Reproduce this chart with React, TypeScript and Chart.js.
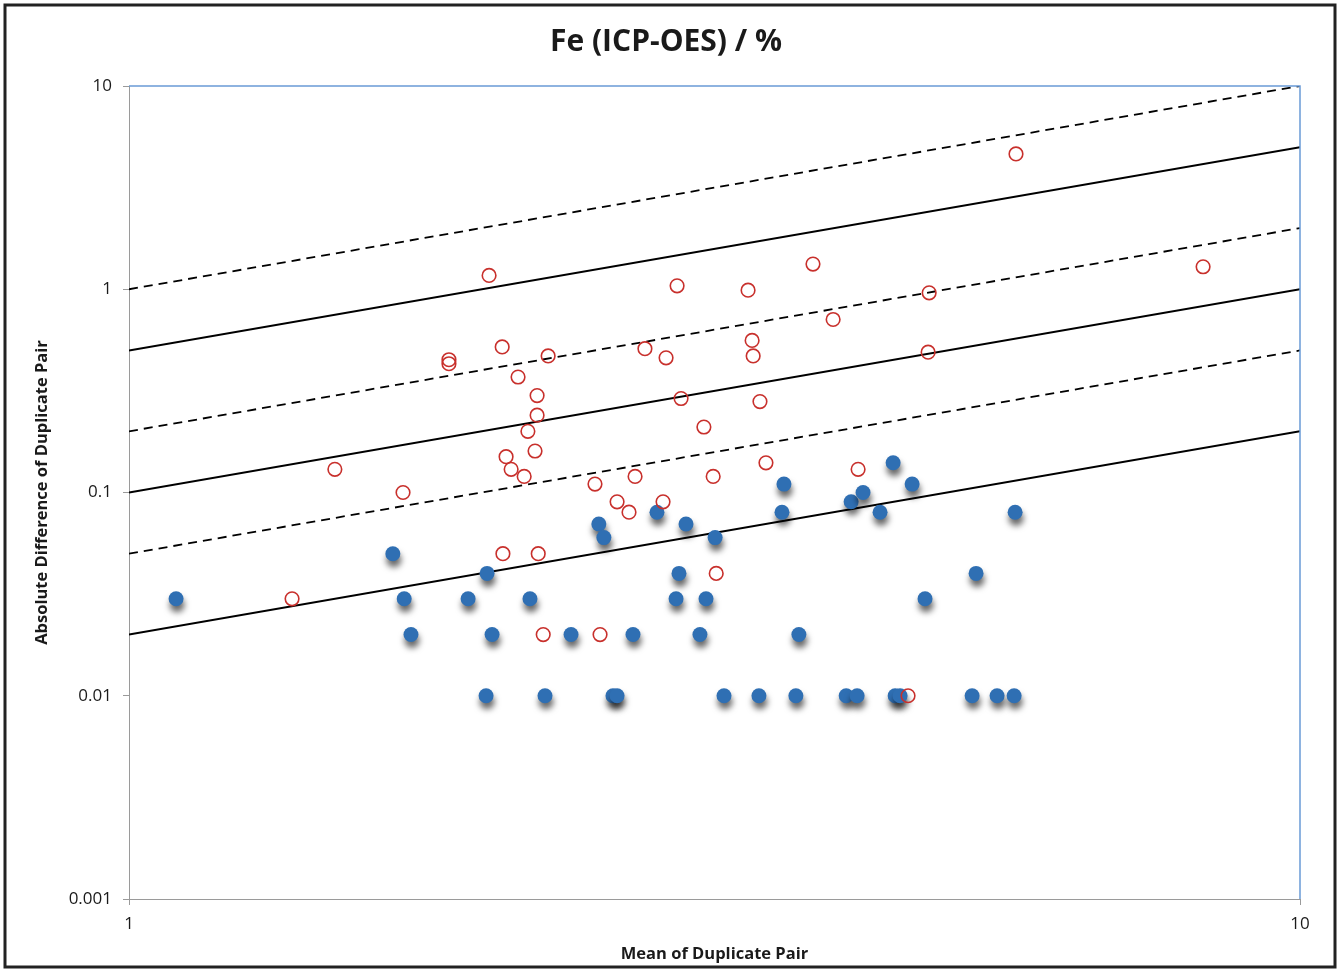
import React, { useEffect, useRef } from "react";
import { Chart, registerables } from "chart.js";

Chart.register(...registerables);

const titleText = "Fe (ICP-OES) / %";
const xTitle = "Mean of Duplicate Pair";
const yTitle = "Absolute Difference of Duplicate Pair";

const xTickValues = [1, 10];
const yTickValues = [0.001, 0.01, 0.1, 1, 10];

// Reference lines y = k * x
const solidFactors = [0.02, 0.1, 0.5];
const dashedFactors = [0.05, 0.2, 1];

// Filled blue points
const blueX = [1.097, 1.68, 1.718, 1.741, 1.948, 2.022, 2.042, 2.018, 2.2, 2.266, 2.385, 2.519, 2.544, 2.59, 2.611, 2.694, 2.824, 2.932, 2.949, 2.99, 3.073, 3.11, 3.166, 3.222, 3.451, 3.611, 3.625, 3.711, 3.733, 4.097, 4.137, 4.186, 4.235, 4.379, 4.493, 4.511, 4.555, 4.664, 4.784, 5.248, 5.289, 5.512, 5.7, 5.711];
const blueY = [0.03, 0.05, 0.03, 0.02, 0.03, 0.04, 0.02, 0.01, 0.03, 0.01, 0.02, 0.07, 0.06, 0.01, 0.01, 0.02, 0.08, 0.03, 0.04, 0.07, 0.02, 0.03, 0.06, 0.01, 0.01, 0.08, 0.11, 0.01, 0.02, 0.01, 0.09, 0.01, 0.1, 0.08, 0.14, 0.01, 0.01, 0.11, 0.03, 0.01, 0.04, 0.01, 0.01, 0.08];

// Open red circles
const redX = [1.499, 1.714, 1.378, 1.876, 1.876, 2.03, 2.083, 2.149, 2.231, 2.231, 2.191, 2.222, 2.099, 2.12, 2.175, 2.28, 2.086, 2.236, 2.258, 2.5, 2.525, 2.611, 2.673, 2.705, 2.758, 2.858, 2.875, 2.938, 2.961, 3.097, 3.154, 3.173, 3.378, 3.405, 3.412, 3.458, 3.499, 3.838, 3.993, 4.194, 4.627, 4.823, 4.813, 5.721, 8.265];
const redY = [0.13, 0.1, 0.03, 0.45, 0.43, 1.17, 0.52, 0.37, 0.3, 0.24, 0.2, 0.16, 0.15, 0.13, 0.12, 0.47, 0.05, 0.05, 0.02, 0.11, 0.02, 0.09, 0.08, 0.12, 0.51, 0.09, 0.46, 1.04, 0.29, 0.21, 0.12, 0.04, 0.99, 0.56, 0.47, 0.28, 0.14, 1.33, 0.71, 0.13, 0.01, 0.96, 0.49, 4.63, 1.29];

const FONT = "'Open Sans', Lato, sans-serif";
const TEXT = "#1a1a1a";
const AXIS = "#9a9a9a";
const BLUE_FRAME = "#6a9bd6";

export default function App() {
  const ref = useRef<HTMLCanvasElement>(null);

  useEffect(() => {
    document.body.style.margin = "0";
    const canvas = ref.current;
    if (!canvas) return;

    const lineDatasets: any[] = [];
    solidFactors.forEach((k) => {
      lineDatasets.push({
        data: xTickValues.map((x) => ({ x, y: k * x })),
        showLine: true,
        borderColor: "#000",
        borderWidth: 2,
        pointRadius: 0,
        order: 3,
      });
    });
    dashedFactors.forEach((k) => {
      lineDatasets.push({
        data: xTickValues.map((x) => ({ x, y: k * x })),
        showLine: true,
        borderColor: "#000",
        borderWidth: 1.8,
        borderDash: [9, 6],
        pointRadius: 0,
        order: 3,
      });
    });

    const blueDs = {
      label: "blue",
      data: blueX.map((x, i) => ({ x, y: blueY[i] })),
      pointRadius: 7.5,
      pointBackgroundColor: "#2f6fb3",
      pointBorderColor: "#2f6fb3",
      pointBorderWidth: 0,
      order: 2,
    };
    const redDs = {
      label: "red",
      data: redX.map((x, i) => ({ x, y: redY[i] })),
      pointRadius: 6.8,
      pointBackgroundColor: "rgba(255,255,255,0)",
      pointBorderColor: "#c8302c",
      pointBorderWidth: 1.6,
      order: 1,
    };

    const framePlugin = {
      id: "frame",
      beforeDraw(chart: any) {
        const c = chart.ctx;
        c.save();
        c.fillStyle = "#fff";
        c.fillRect(0, 0, chart.width, chart.height);
        c.strokeStyle = "#222";
        c.lineWidth = 3;
        c.strokeRect(5, 5, chart.width - 9, chart.height - 8);
        c.restore();
      },
      afterDatasetsDraw(chart: any) {
        const { left, right, top, bottom } = chart.chartArea;
        const c = chart.ctx;
        c.save();
        c.strokeStyle = BLUE_FRAME;
        c.lineWidth = 1.5;
        c.beginPath();
        c.moveTo(left, top);
        c.lineTo(right, top);
        c.lineTo(right, bottom);
        c.stroke();
        c.restore();
      },
    };

    const shadowPlugin = {
      id: "shadow",
      beforeDatasetDraw(chart: any, args: any) {
        if (chart.data.datasets[args.index].label === "blue") {
          const c = chart.ctx;
          c.save();
          c.shadowColor = "rgba(0,0,0,0.6)";
          c.shadowBlur = 6;
          c.shadowOffsetX = 1;
          c.shadowOffsetY = 6;
        }
      },
      afterDatasetDraw(chart: any, args: any) {
        if (chart.data.datasets[args.index].label === "blue") {
          chart.ctx.restore();
        }
      },
    };

    const chart = new Chart(canvas, {
      type: "scatter",
      data: { datasets: [redDs, blueDs, ...lineDatasets] as any },
      options: {
        animation: false,
        responsive: false,
        events: [],
        layout: { padding: { left: 32, right: 39, top: 10, bottom: 6 } },
        plugins: {
          legend: { display: false },
          tooltip: { enabled: false },
          title: {
            display: true,
            text: titleText,
            color: TEXT,
            font: { family: FONT, size: 30, weight: "bold" },
            padding: { top: 14, bottom: 26 },
          },
        },
        scales: {
          x: {
            type: "logarithmic",
            min: 1,
            max: 10,
            afterBuildTicks: (s: any) => {
              s.ticks = xTickValues.map((v) => ({ value: v }));
            },
            afterFit: (s: any) => {
              s.height = 65;
            },
            ticks: {
              callback: (v: any) => String(v),
              color: TEXT,
              font: { family: FONT, size: 17 },
              padding: 9,
              autoSkip: false,
              maxRotation: 0,
            },
            grid: { drawOnChartArea: false, drawTicks: true, tickLength: 6, color: AXIS },
            border: { color: AXIS, width: 1 },
            title: {
              display: true,
              text: xTitle,
              color: TEXT,
              font: { family: FONT, size: 16.5, weight: "bold" },
              padding: { top: 0, bottom: 0 },
            },
          },
          y: {
            type: "logarithmic",
            min: 0.001,
            max: 10,
            afterBuildTicks: (s: any) => {
              s.ticks = yTickValues.map((v) => ({ value: v }));
            },
            afterFit: (s: any) => {
              s.width = 97;
            },
            ticks: {
              callback: (v: any) => String(v),
              color: TEXT,
              font: { family: FONT, size: 17 },
              padding: 11,
              autoSkip: false,
            },
            grid: { drawOnChartArea: false, drawTicks: true, tickLength: 6, color: AXIS },
            border: { color: AXIS, width: 1 },
            title: {
              display: true,
              text: yTitle,
              color: TEXT,
              font: { family: FONT, size: 16.5, weight: "bold" },
              padding: { top: 0, bottom: 0 },
            },
          },
        },
      },
      plugins: [framePlugin, shadowPlugin],
    });

    return () => chart.destroy();
  }, []);

  return (
    <div style={{ width: 1339, height: 970, position: "relative" }}>
      <canvas ref={ref} width={1339} height={970} style={{ display: "block", width: 1339, height: 970 }} />
    </div>
  );
}
